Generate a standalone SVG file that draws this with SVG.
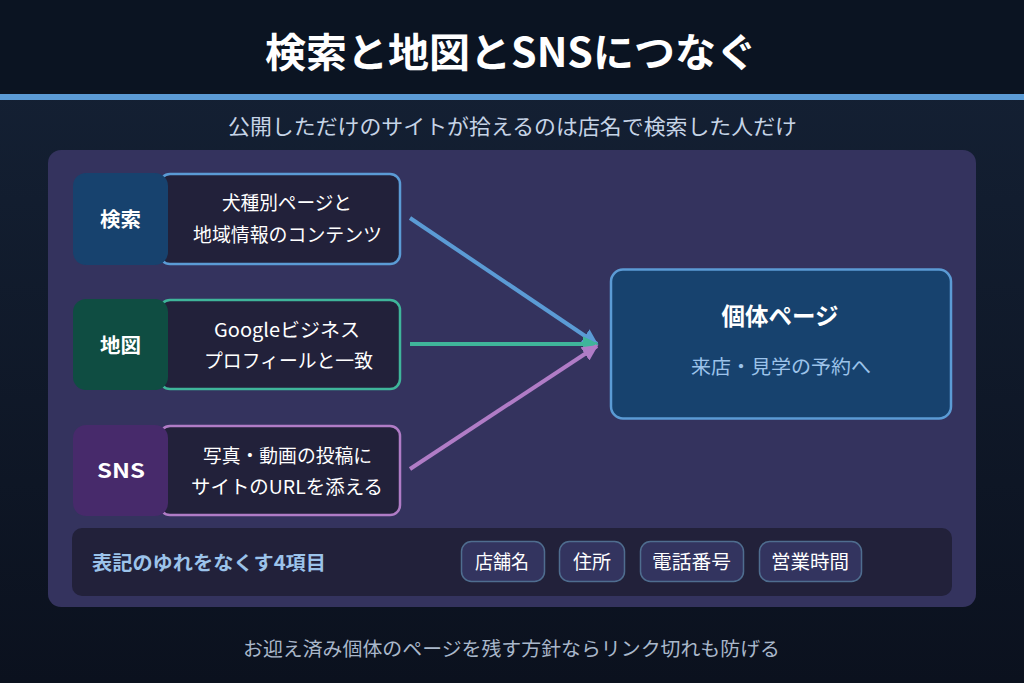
<svg xmlns="http://www.w3.org/2000/svg" width="1024" height="683" viewBox="0 0 1024 683">
<defs>
<linearGradient id="bg" x1="0" y1="0" x2="0" y2="1">
<stop offset="0" stop-color="#152236"/>
<stop offset="1" stop-color="#0b111e"/>
</linearGradient>
<marker id="ahB" viewBox="0 0 10 10" refX="9" refY="5" markerWidth="4" markerHeight="4" orient="auto" markerUnits="strokeWidth"><path d="M0,0 L10,5 L0,10 z" fill="#5b9bd5"/></marker>
<marker id="ahG" viewBox="0 0 10 10" refX="9" refY="5" markerWidth="4" markerHeight="4" orient="auto" markerUnits="strokeWidth"><path d="M0,0 L10,5 L0,10 z" fill="#3fb59a"/></marker>
<marker id="ahP" viewBox="0 0 10 10" refX="9" refY="5" markerWidth="4" markerHeight="4" orient="auto" markerUnits="strokeWidth"><path d="M0,0 L10,5 L0,10 z" fill="#b07cc6"/></marker>
<style>
text{font-family:"Noto Sans CJK JP","Noto Sans",sans-serif;}
.title{font-size:40px;font-weight:700;fill:#ffffff;}
.sub{font-size:21px;fill:#c6d4e6;}
.foot{font-size:19.5px;fill:#a9b7ca;}
.lbl{font-size:20.5px;font-weight:700;fill:#ffffff;}
.ct{font-size:19px;fill:#ffffff;}
.card{fill:#22213a;stroke-width:2.5;}
.chip{fill:#33345f;stroke:#4f6d8f;stroke-width:1.5;}
.chipt{font-size:19px;fill:#ffffff;}
.conn{fill:none;stroke-width:4;}
</style>
</defs>
<rect x="0" y="0" width="1024" height="683" fill="url(#bg)"/>
<rect x="0" y="0" width="1024" height="94" fill="#0b1422"/>
<rect x="0" y="94" width="1024" height="6" fill="#5b9bd5"/>
<text class="title" x="511" y="67" text-anchor="middle" textLength="492" lengthAdjust="spacingAndGlyphs">検索と地図とSNSにつなぐ</text>
<text class="sub" x="512.5" y="134" text-anchor="middle" textLength="569" lengthAdjust="spacingAndGlyphs">公開しただけのサイトが拾えるのは店名で検索した人だけ</text>
<rect x="48" y="150" width="928" height="457" rx="13" fill="#34335e"/>

<g id="node-search">
<rect class="card" x="160" y="174" width="240" height="90" rx="10" stroke="#5b9bd5"/>
<rect x="73" y="173" width="95" height="92" rx="13" fill="#17426e"/>
<text class="lbl" x="120.5" y="227" text-anchor="middle" textLength="41" lengthAdjust="spacingAndGlyphs">検索</text>
<text class="ct" x="287" y="210" text-anchor="middle" textLength="130" lengthAdjust="spacingAndGlyphs">犬種別ページと</text>
<text class="ct" x="287.5" y="242" text-anchor="middle" textLength="189" lengthAdjust="spacingAndGlyphs">地域情報のコンテンツ</text>
</g>
<g id="node-map">
<rect class="card" x="160" y="300" width="240" height="89" rx="10" stroke="#3fb59a"/>
<rect x="73" y="299" width="95" height="91" rx="13" fill="#0f4d42"/>
<text class="lbl" x="120.5" y="353" text-anchor="middle" textLength="41" lengthAdjust="spacingAndGlyphs">地図</text>
<text class="ct" x="287" y="337" text-anchor="middle" textLength="146" lengthAdjust="spacingAndGlyphs">Googleビジネス</text>
<text class="ct" x="288.5" y="368" text-anchor="middle" textLength="169" lengthAdjust="spacingAndGlyphs">プロフィールと一致</text>
</g>
<g id="node-sns">
<rect class="card" x="160" y="426" width="240" height="89" rx="10" stroke="#b07cc6"/>
<rect x="73" y="425" width="95" height="91" rx="13" fill="#472a6b"/>
<text class="lbl" x="121" y="478" text-anchor="middle" font-size="21" textLength="48" lengthAdjust="spacingAndGlyphs">SNS</text>
<text class="ct" x="287.5" y="463" text-anchor="middle" textLength="169" lengthAdjust="spacingAndGlyphs">写真・動画の投稿に</text>
<text class="ct" x="287" y="494" text-anchor="middle" textLength="192" lengthAdjust="spacingAndGlyphs">サイトのURLを添える</text>
</g>

<g id="connectors">
<line class="conn" x1="410" y1="218" x2="597" y2="344" stroke="#5b9bd5" marker-end="url(#ahB)"/>
<line class="conn" x1="410" y1="344" x2="597" y2="344" stroke="#3fb59a" marker-end="url(#ahG)"/>
<line class="conn" x1="410" y1="469" x2="597" y2="346" stroke="#b07cc6" marker-end="url(#ahP)"/>
</g>

<g id="node-target">
<rect x="611" y="269.5" width="340" height="149" rx="12" fill="#17426e" stroke="#5b9bd5" stroke-width="2.5"/>
<text x="780" y="325" text-anchor="middle" font-size="23.5" font-weight="700" fill="#ffffff" textLength="117" lengthAdjust="spacingAndGlyphs">個体ページ</text>
<text x="781" y="374" text-anchor="middle" font-size="19.5" fill="#9cc3ea" textLength="180" lengthAdjust="spacingAndGlyphs">来店・見学の予約へ</text>
</g>

<g id="node-items">
<rect x="72" y="528" width="880" height="68" rx="10" fill="#22213a"/>
<text x="92" y="570" font-size="19.5" font-weight="700" fill="#9cc3ea" textLength="234" lengthAdjust="spacingAndGlyphs">表記のゆれをなくす4項目</text>
<rect class="chip" x="461.5" y="541.5" width="83" height="40" rx="10"/>
<text class="chipt" x="502" y="569" text-anchor="middle" textLength="54" lengthAdjust="spacingAndGlyphs">店舗名</text>
<rect class="chip" x="559.5" y="541.5" width="65" height="40" rx="10"/>
<text class="chipt" x="592" y="569" text-anchor="middle" textLength="38" lengthAdjust="spacingAndGlyphs">住所</text>
<rect class="chip" x="640.5" y="541.5" width="103" height="40" rx="10"/>
<text class="chipt" x="691.5" y="569" text-anchor="middle" textLength="79" lengthAdjust="spacingAndGlyphs">電話番号</text>
<rect class="chip" x="759.5" y="541.5" width="102" height="40" rx="10"/>
<text class="chipt" x="810" y="569" text-anchor="middle" textLength="78" lengthAdjust="spacingAndGlyphs">営業時間</text>
</g>

<text class="foot" x="511.5" y="656" text-anchor="middle" textLength="537" lengthAdjust="spacingAndGlyphs">お迎え済み個体のページを残す方針ならリンク切れも防げる</text>
</svg>
